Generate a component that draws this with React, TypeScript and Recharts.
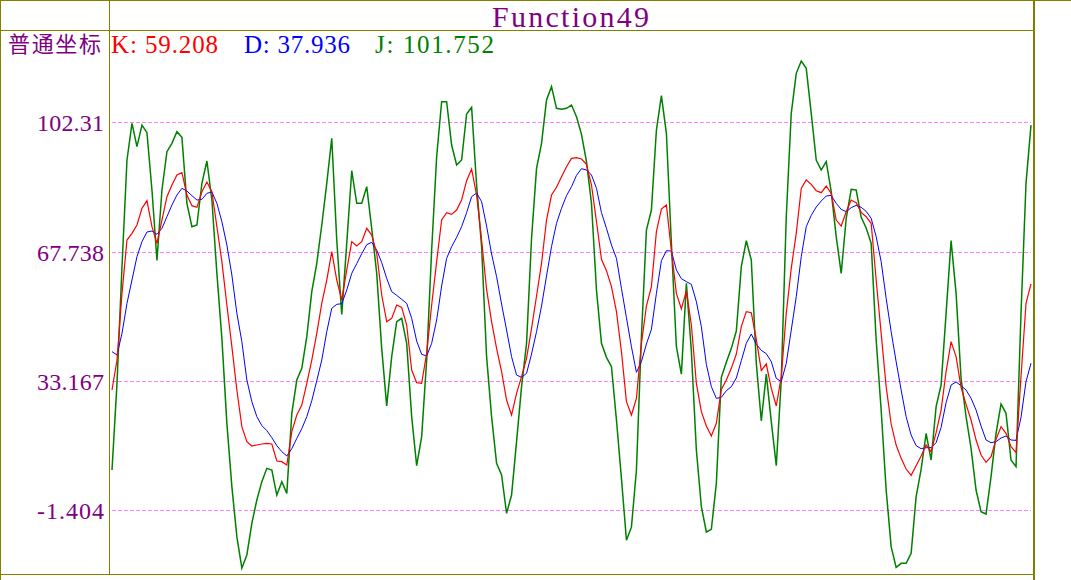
import React from "react";
import { LineChart, Line, XAxis, YAxis, ReferenceLine } from "recharts";

const J_VALUES = [
  9.31, 32.54, 63.81, 92.39, 102.22, 95.96, 101.77, 99.72, 84.35, 65.5,
  84.35, 94.62, 96.86, 99.98, 98.47, 80.78, 74.53, 74.97, 86.14, 92.12,
  81.67, 62.02, 44.6, 21.82, 4.85, -8.55, -17.0, -13.46, -4.98, 1.27,
  6.19, 9.76, 9.31, 2.61, 6.19, 3.06, 24.5, 33.43, 36.56, 45.05,
  57.11, 64.7, 74.97, 86.14, 98.2, 70.95, 51.0, 70.06, 89.53, 80.78,
  80.78, 85.24, 74.08, 62.02, 41.92, 26.5, 39.69, 49.07, 49.96, 43.26,
  23.61, 10.5, 18.25, 38.79, 68.27, 93.28, 108.02, 108.02, 96.41, 91.05,
  92.39, 104.72, 106.5, 85.69, 69.17, 39.69, 23.61, 11.1, 7.98, -2.3,
  2.61, 16.91, 31.65, 43.26, 71.4, 90.16, 96.86, 108.47, 112.04, 106.24,
  105.97, 106.24, 107.13, 104.0, 99.27, 91.94, 80.78, 57.55, 43.26, 39.5,
  37.01, 22.71, 7.08, -9.5, -6.0, 9.3, 45.05, 73.63, 78.99, 100.43,
  109.63, 99.54, 70.06, 42.37, 35.0, 59.34, 41.18, 14.67, -0.51, -7.3,
  -6.59, 5.74, 34.15, 38.17, 41.92, 46.56, 63.81, 70.77, 65.59, 37.9,
  22.5, 35.0, 22.27, 10.5, 33.43, 77.2, 104.9, 115.62, 118.92, 116.96,
  104.9, 92.39, 89.71, 91.94, 83.9, 71.85, 62.0, 76.76, 84.53, 84.35,
  77.03, 74.17, 70.06, 44.15, 25.39, 3.95, -11.23, -16.77, -15.7, -15.7,
  -13.02, 2.17, 9.49, 19.14, 11.99, 26.29, 32.09, 51.3, 70.8, 56.66,
  33.88, 23.61, 15.12, 3.95, -1.85, -2.48, 7.53, 19.14, 27.0, 24.5,
  11.99, 10.21, 51.3, 86.14, 101.752,
];

const K_VALUES = [
  30.75, 38.79, 56.66, 70.95, 72.74, 74.97, 79.44, 81.49, 74.53, 70.06,
  76.31, 82.56, 85.69, 88.37, 89.0, 83.01, 80.15, 79.71, 83.9, 86.5,
  83.9, 74.53, 65.15, 53.53, 42.37, 30.75, 20.93, 16.91, 15.75, 16.01,
  16.28, 16.46, 16.28, 11.73, 11.55, 10.65, 19.59, 24.05, 26.73, 32.54,
  38.79, 45.94, 53.98, 60.23, 67.83, 60.23, 54.87, 62.91, 70.51, 69.34,
  70.51, 74.08, 72.29, 67.38, 56.21, 49.07, 49.96, 53.53, 52.91, 48.17,
  36.11, 32.72, 32.54, 40.58, 53.53, 65.15, 76.31, 78.28, 77.83, 78.99,
  81.67, 86.85, 90.0, 83.01, 70.95, 57.73, 49.07, 41.92, 35.67, 28.07,
  24.05, 29.86, 34.33, 39.24, 47.28, 55.94, 64.7, 76.31, 83.01, 85.07,
  87.92, 90.6, 92.84, 93.02, 92.66, 91.23, 85.69, 75.87, 65.77, 62.73,
  58.45, 51.75, 41.03, 27.63, 24.05, 28.5, 43.26, 53.26, 58.45, 73.19,
  79.26, 80.33, 68.07, 56.66, 52.5, 57.37, 48.17, 32.54, 24.95, 21.11,
  18.43, 21.82, 30.93, 33.43, 36.56, 40.4, 47.73, 51.75, 51.48, 44.33,
  36.0, 37.72, 31.2, 26.47, 34.33, 51.3, 63.36, 72.74, 84.8, 87.03,
  85.87, 84.17, 83.64, 85.42, 83.46, 76.31, 74.7, 78.54, 81.67, 80.96,
  78.37, 77.2, 75.42, 60.23, 45.94, 31.65, 21.64, 16.01, 12.44, 9.58,
  7.88, 10.48, 13.07, 16.01, 14.23, 19.32, 25.39, 35.67, 43.71, 39.69,
  31.47, 26.91, 22.71, 17.35, 13.34, 11.37, 12.89, 17.53, 20.93, 19.14,
  15.57, 14.0, 34.33, 54.0, 59.208,
];

const D_VALUES = [
  41.03, 40.13, 45.94, 53.98, 60.23, 66.49, 70.51, 73.1, 73.36, 72.47,
  74.08, 77.2, 80.33, 83.01, 84.8, 84.08, 82.83, 81.67, 81.85, 83.46,
  83.82, 80.78, 75.87, 69.61, 61.57, 51.3, 43.71, 33.43, 27.63, 23.61,
  21.2, 19.86, 17.98, 15.84, 14.23, 13.07, 15.03, 17.8, 20.39, 23.61,
  27.89, 33.25, 38.79, 46.39, 52.64, 53.71, 53.89, 57.55, 62.02, 64.61,
  67.29, 69.7, 70.33, 68.27, 64.88, 60.68, 57.11, 56.12, 55.05, 53.98,
  49.96, 43.88, 40.31, 39.87, 43.26, 49.51, 58.62, 66.04, 69.17, 71.67,
  74.53, 78.28, 82.56, 83.55, 81.23, 74.7, 67.2, 61.13, 53.8, 46.83,
  39.69, 34.77, 34.15, 35.22, 40.4, 46.39, 53.26, 61.3, 69.17, 75.42,
  79.44, 82.83, 85.24, 88.28, 90.07, 89.71, 88.37, 84.8, 78.28, 74.08,
  69.61, 66.04, 58.0, 50.14, 42.37, 35.49, 38.35, 43.08, 47.01, 56.66,
  65.41, 68.09, 68.0, 62.91, 60.59, 59.79, 59.07, 54.43, 47.73, 37.63,
  31.65, 28.52, 28.79, 30.58, 31.65, 33.97, 38.61, 43.26, 45.76, 42.99,
  41.38, 40.49, 38.35, 33.88, 32.99, 37.9, 46.83, 55.77, 66.49, 74.53,
  77.56, 79.8, 81.4, 82.74, 82.92, 80.78, 79.17, 78.54, 79.62, 80.24,
  79.71, 78.63, 76.76, 71.85, 65.15, 55.32, 46.39, 38.35, 30.75, 23.61,
  18.69, 15.84, 15.03, 15.3, 15.3, 16.64, 20.75, 27.36, 32.09, 32.9,
  31.91, 30.75, 28.52, 25.39, 21.11, 17.35, 16.64, 16.91, 17.89, 18.43,
  17.35, 17.26, 23.43, 32.99, 37.936,
];

const Y_TICKS = [-1.404, 33.167, 67.738, 102.31];
const Y_LABELS = ["-1.404", "33.167", "67.738", "102.31"];
const Y_DOMAIN = [-18.823, 127.233];

const TITLE = "Function49";
const AXIS_NAME = "普通坐标";
const LEGEND_ITEMS = [
  { label: "K: 59.208", color: "#ff0000" },
  { label: "D: 37.936", color: "#0000ff" },
  { label: "J: 101.752", color: "#008000" },
];

const rows = J_VALUES.map((j, i) => ({
  idx: i,
  J: j,
  K: K_VALUES[i],
  D: D_VALUES[i],
}));

const PURPLE = "#800080";
const OLIVE = "#808000";
const GRID = "#ff80ff";

const YTick = (props: any) => {
  const { y, payload } = props;
  let k = 0;
  let best = Infinity;
  Y_TICKS.forEach((t, n) => {
    const d = Math.abs(t - payload.value);
    if (d < best) {
      best = d;
      k = n;
    }
  });
  return (
    <text
      x={104}
      y={y + 8.5}
      textAnchor="end"
      fill={PURPLE}
      fontFamily="'Liberation Serif', serif"
      fontSize={24}
      textLength={67}
      lengthAdjust="spacing"
    >
      {Y_LABELS[k]}
    </text>
  );
};

const legendX = [111, 244, 375];
const legendW = [107, 106, 119];

export default function App() {
  return (
    <div
      style={{
        position: "absolute",
        left: 0,
        top: 0,
        width: 1071,
        height: 580,
        background: "#ffffff",
        overflow: "hidden",
      }}
    >
      <LineChart
        width={1071}
        height={580}
        data={rows}
        margin={{ top: 30, right: 40, bottom: 5, left: 0 }}
      >
        <XAxis dataKey="idx" type="number" domain={[0, 184]} hide />
        <YAxis
          type="number"
          domain={Y_DOMAIN}
          ticks={Y_TICKS}
          width={112}
          axisLine={false}
          tickLine={false}
          tick={<YTick />}
          allowDataOverflow
        />
        {Y_TICKS.map((t) => (
          <ReferenceLine
            key={t}
            y={t}
            stroke={GRID}
            strokeDasharray="4 2"
            strokeWidth={1}
            shapeRendering="crispEdges"
          />
        ))}
        <Line
          type="linear"
          dataKey="J"
          stroke="#008000"
          strokeWidth={1.5}
          dot={false}
          isAnimationActive={false}
        />
        <Line
          type="linear"
          dataKey="D"
          stroke="#0000ff"
          strokeWidth={1}
          dot={false}
          isAnimationActive={false}
        />
        <Line
          type="linear"
          dataKey="K"
          stroke="#ff0000"
          strokeWidth={1.2}
          dot={false}
          isAnimationActive={false}
        />
      </LineChart>
      <svg
        width={1071}
        height={580}
        style={{ position: "absolute", left: 0, top: 0, pointerEvents: "none" }}
      >
        <g shapeRendering="crispEdges" fill={OLIVE}>
          <rect x={0} y={0} width={1071} height={1} />
          <rect x={0} y={30} width={1034} height={1} />
          <rect x={0} y={574} width={1034} height={1} />
          <rect x={0} y={0} width={1} height={580} />
          <rect x={109} y={0} width={1} height={575} />
          <rect x={1033} y={0} width={2} height={580} />
        </g>
        <text
          x={492}
          y={27}
          fill={PURPLE}
          fontFamily="'Liberation Serif', serif"
          fontSize={30}
          textLength={157}
          lengthAdjust="spacing"
        >
          {TITLE}
        </text>
        <text
          x={8}
          y={52}
          fill={PURPLE}
          fontFamily="'Noto Sans CJK SC', sans-serif"
          fontSize={22}
          textLength={93}
          lengthAdjust="spacing"
        >
          {AXIS_NAME}
        </text>
        {LEGEND_ITEMS.map((it, n) => (
          <text
            key={it.label}
            x={legendX[n]}
            y={53}
            fill={it.color}
            fontFamily="'Liberation Serif', serif"
            fontSize={25}
            textLength={legendW[n]}
            lengthAdjust="spacing"
          >
            {it.label}
          </text>
        ))}
      </svg>
    </div>
  );
}
